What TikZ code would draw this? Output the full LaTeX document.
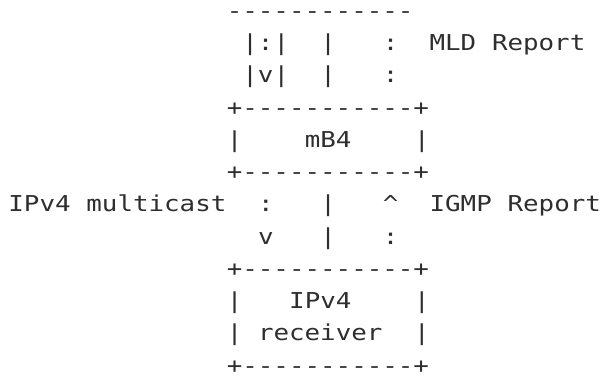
\documentclass[tikz,border=0pt]{standalone}
\usepackage{fontspec}
\newfontfamily\asciifont[FakeStretch=1.18]{DejaVu Sans Mono}
\definecolor{ink}{HTML}{2E2E2E}
\newcommand\dd{-{}}
\newcommand\twelvedash{\dd\dd\dd\dd\dd\dd\dd\dd\dd\dd\dd\dd}
\newcommand\elevendash{\dd\dd\dd\dd\dd\dd\dd\dd\dd\dd\dd}
\newcommand\boxedge{+\elevendash+}
\newcommand\cell[4]{\node[txt] (#1) at ({8.4+15.6*#2},{-(18.4+32.25*#3)}) {#4};}
\begin{document}
\begin{tikzpicture}[x=1pt,y=1pt,
  txt/.style={anchor=base west,inner sep=0pt,outer sep=0pt,text=ink,
    font=\asciifont\fontsize{21.9}{26}\selectfont}]
\useasboundingbox (0,0) rectangle (602,-377);
% line 0
\cell{topdash}{14}{0}{\twelvedash}
% line 1
\cell{mldpipe}{15}{1}{|:|}
\cell{bar1a}{20}{1}{|}
\cell{colon1}{24}{1}{:}
\cell{mldA}{27}{1}{MLD}
\cell{mldB}{31}{1}{Report}
% line 2
\cell{mldv}{15}{2}{|v|}
\cell{bar2a}{20}{2}{|}
\cell{colon2}{24}{2}{:}
% mB4 box
\cell{mbtop}{14}{3}{\boxedge}
\cell{mbl}{14}{4}{|}
\cell{mblabel}{19}{4}{mB4}
\cell{mbr}{26}{4}{|}
\cell{mbbot}{14}{5}{\boxedge}
% line 6
\cell{ipa}{0}{6}{IPv4}
\cell{ipb}{5}{6}{multicast}
\cell{colon6}{16}{6}{:}
\cell{bar6}{20}{6}{|}
\cell{caret6}{24}{6}{\textasciicircum}
\cell{igmpA}{27}{6}{IGMP}
\cell{igmpB}{32}{6}{Report}
% line 7
\cell{v7}{16}{7}{v}
\cell{bar7}{20}{7}{|}
\cell{colon7}{24}{7}{:}
% receiver box
\cell{rtop}{14}{8}{\boxedge}
\cell{rl1}{14}{9}{|}
\cell{rlabA}{18}{9}{IPv4}
\cell{rr1}{26}{9}{|}
\cell{rl2}{14}{10}{|}
\cell{rlabB}{16}{10}{receiver}
\cell{rr2}{26}{10}{|}
\cell{rbot}{14}{11}{\boxedge}
\end{tikzpicture}
\end{document}
